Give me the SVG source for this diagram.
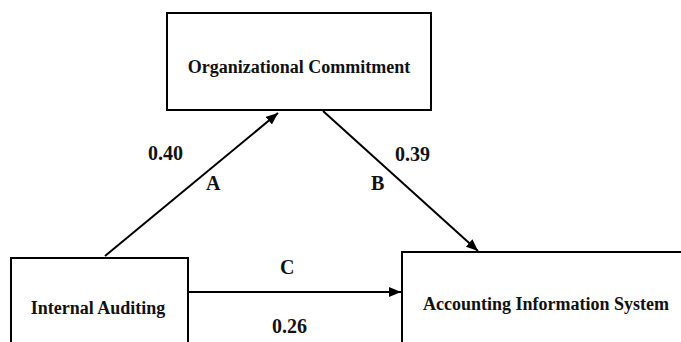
<svg xmlns="http://www.w3.org/2000/svg" width="681" height="342" viewBox="0 0 681 342">
<style>
.box{fill:#fff;stroke:#000;stroke-width:2}
.t{font-family:'Liberation Serif','DejaVu Serif',serif;font-weight:bold;fill:#111}
.n{font-size:18px;text-anchor:middle}
.l{font-size:20px}
.c{stroke:#000;stroke-width:2;fill:none}
</style>
<defs>
<marker id="ah" viewBox="0 0 12 10" refX="12" refY="5" markerWidth="12" markerHeight="10" markerUnits="userSpaceOnUse" orient="auto">
<path d="M0,0 L12,5 L0,10 Z" fill="#000"/>
</marker>
</defs>
<g id="node-oc">
<rect class="box" x="167" y="13" width="264" height="97"/>
<text class="t n" x="299" y="73">Organizational Commitment</text>
</g>
<g id="node-ia">
<rect class="box" x="11" y="258" width="177" height="100"/>
<text class="t n" x="98" y="314">Internal Auditing</text>
</g>
<g id="node-ais">
<rect class="box" x="402" y="252" width="300" height="110"/>
<text class="t n" x="546" y="310">Accounting Information System</text>
</g>
<g id="connectors">
<line class="c" x1="105" y1="256" x2="278" y2="113" marker-end="url(#ah)"/>
<line class="c" x1="323" y1="111" x2="478" y2="251" marker-end="url(#ah)"/>
<line class="c" x1="188" y1="292" x2="401" y2="292" marker-end="url(#ah)"/>
</g>
<g id="labels">
<text class="t l" x="148" y="160">0.40</text>
<text class="t l" x="206" y="190">A</text>
<text class="t l" x="371" y="190">B</text>
<text class="t l" x="395" y="161">0.39</text>
<text class="t l" x="280" y="274">C</text>
<text class="t l" x="272" y="333">0.26</text>
</g>
</svg>
